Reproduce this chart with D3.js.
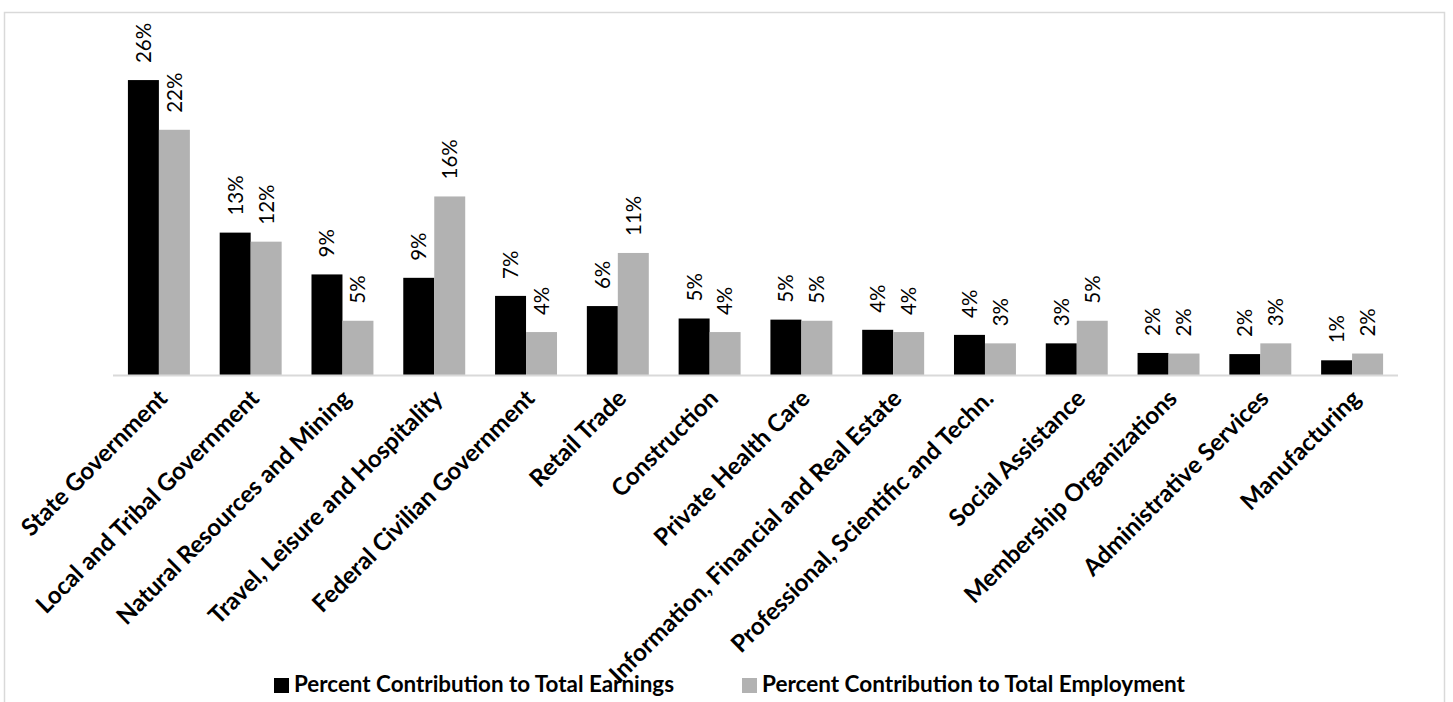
<!DOCTYPE html>
<html>
<head>
<meta charset="utf-8">
<script src="https://cdn.jsdelivr.net/npm/d3@7"></script>
<style>
  body { margin: 0; background: #fff; }
</style>
</head>
<body>
<div id="chart"></div>
<script>
// Data
let categories = ["State Government", "Local and Tribal Government", "Natural Resources and Mining",
  "Travel, Leisure and Hospitality", "Federal Civilian Government", "Retail Trade", "Construction",
  "Private Health Care", "Information, Financial and Real Estate", "Professional, Scientific and Techn.",
  "Social Assistance", "Membership Organizations", "Administrative Services", "Manufacturing"];

let earnings = [26.1, 12.6, 8.9, 8.6, 7.0, 6.1, 5.0, 4.9, 4.0, 3.55, 2.8, 1.95, 1.85, 1.3];
let employment = [21.7, 11.8, 4.8, 15.8, 3.8, 10.8, 3.8, 4.8, 3.8, 2.8, 4.8, 1.9, 2.8, 1.9];

let seriesNames = ["Percent Contribution to Total Earnings", "Percent Contribution to Total Employment"];
let seriesKeys = ["earnings", "employment"];
let yTicks = [0, 30];

let width = 1453;
let height = 702;

let paddingLeft = 113;
let paddingRight = 34;
let plotTop = 36;
let plotBottom = 375;

let colors = { earnings: "#000000", employment: "#b2b2b2" };

let data = categories.map((c, i) => ({ category: c, earnings: earnings[i], employment: employment[i] }));

let svg = d3.select("div#chart")
  .append("svg")
  .attr("width", width)
  .attr("height", height)
  .style("font-family", "Lato, 'Open Sans', sans-serif");

// chart frame
svg.append("rect")
  .attr("x", 4.5)
  .attr("y", 12.5)
  .attr("width", 1440)
  .attr("height", 700)
  .style("fill", "none")
  .style("stroke", "#d9d9d9")
  .style("stroke-width", 1.5);

// Scales
let x0 = d3.scaleBand()
  .domain(categories)
  .range([paddingLeft, width - paddingRight - 21])
  .paddingInner(0.325)
  .paddingOuter(0.1625);

let x1 = d3.scaleBand()
  .domain(seriesKeys)
  .range([0, x0.bandwidth()]);

let y = d3.scaleLinear()
  .domain([yTicks[0], yTicks[1]])
  .range([plotBottom, plotTop]);

// Bars
let groups = svg.selectAll("g.group")
  .data(data)
  .enter()
  .append("g")
  .attr("class", "group")
  .attr("transform", d => "translate(" + x0(d.category) + ",0)");

groups.selectAll("rect")
  .data(d => seriesKeys.map(k => ({ key: k, value: d[k] })))
  .enter()
  .append("rect")
  .attr("x", d => x1(d.key))
  .attr("y", d => y(d.value))
  .attr("width", x1.bandwidth())
  .attr("height", d => y(0) - y(d.value))
  .style("fill", d => colors[d.key]);

// Value labels
groups.selectAll("text.value")
  .data(d => seriesKeys.map(k => ({ key: k, value: d[k] })))
  .enter()
  .append("text")
  .attr("class", "value")
  .attr("transform", d => "translate(" + (x1(d.key) + x1.bandwidth() / 2) + "," + (y(d.value) - 17) + ") rotate(-90)")
  .attr("dy", "0.36em")
  .style("font-size", "20.5px")
  .style("fill", "#000")
  .text(d => d3.format(".0f")(d.value) + "%");

// X axis
let xAxis = d3.axisBottom(x0)
  .tickSize(0)
  .tickPadding(0);

let axisG = svg.append("g")
  .attr("transform", "translate(0," + plotBottom + ")")
  .call(xAxis);

axisG.select(".domain")
  .attr("d", "M" + paddingLeft + ",0.5H" + (width - paddingRight - 21))
  .style("stroke", "#d9d9d9")
  .style("stroke-width", 2);

axisG.selectAll(".tick text")
  .attr("y", 0)
  .attr("dy", 0)
  .attr("transform", "translate(10,25) rotate(-45)")
  .style("text-anchor", "end")
  .style("font-size", "24px")
  .style("font-weight", 700)
  .style("font-family", "Lato, 'Open Sans', sans-serif")
  .style("fill", "#000");

// Legend
let legendX = [274, 742];
let legendLen = [380, 423];

seriesKeys.forEach(function (k, i) {
  svg.append("rect")
    .attr("x", legendX[i])
    .attr("y", 678)
    .attr("width", 15)
    .attr("height", 15)
    .style("fill", colors[k]);

  svg.append("text")
    .attr("x", legendX[i] + 20)
    .attr("y", 692)
    .attr("textLength", legendLen[i])
    .attr("lengthAdjust", "spacingAndGlyphs")
    .style("font-size", "22px")
    .style("font-weight", 700)
    .style("fill", "#000")
    .text(seriesNames[i]);
});
</script>
</body>
</html>
